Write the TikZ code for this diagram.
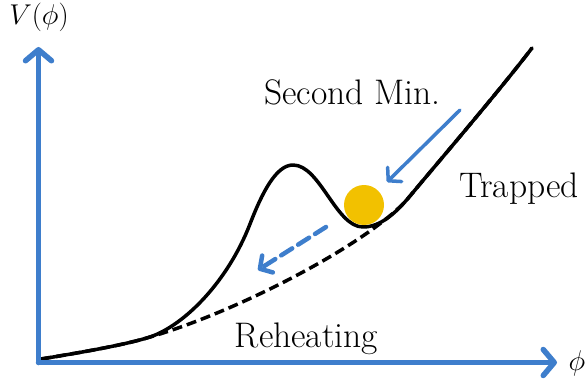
\documentclass[tikz,border=0pt]{standalone}
\usepackage{fontspec}
\usepackage{graphicx}
\usetikzlibrary{arrows.meta}
\definecolor{axisblue}{RGB}{62,126,204}
\definecolor{ballgold}{RGB}{242,193,0}
\newcommand{\bigmath}[1]{\scalebox{1.15}{\Huge$#1$}}
\begin{document}
\begin{tikzpicture}[x=1pt,y=-1pt,
  lbl/.style={font=\fontsize{35.5}{42}\selectfont, inner sep=0pt},
  axisarrow/.style={draw=axisblue, line width=5.5pt, line cap=round,
     -{Straight Barb[round, length=11pt, width=26pt]}},
  flowarrow/.style={draw=axisblue, line width=3.5pt, line cap=round,
     -{Straight Barb[round, length=9pt, width=20pt]}},
  curve/.style={line width=3.5pt, line cap=round, line join=round},
  dashcurve/.style={line width=3.5pt, dash pattern=on 10pt off 5pt}]
\useasboundingbox (0,0) rectangle (586,385);
\coordinate (O) at (38.5,362.5);
\coordinate (ytip) at (38.5,47);
\coordinate (xtip) at (557,362.5);
% potentials
\draw[dashcurve] (41,359) .. controls (90,351) and (128,344) .. (150,337)
  .. controls (240,311) and (375,240) .. (410,196)
  .. controls (440,160) and (500,90) .. (532,48);
\draw[curve] (41,359) .. controls (90,351) and (128,344) .. (150,337)
  .. controls (185,325) and (228,281) .. (250,224)
  .. controls (262,193) and (276,165) .. (293,165)
  .. controls (320,165) and (336,227) .. (363,227)
  .. controls (380,227) and (395,214) .. (410,196)
  .. controls (440,160) and (500,90) .. (532,48);
% axes
\draw[axisarrow] (O) -- (ytip);
\draw[axisarrow] (O) -- (xtip);
% ball
\node[circle, fill=ballgold, minimum size=40pt, inner sep=0pt] (ball) at (364,205) {};
% arrows
\coordinate (a1s) at (460,110);
\coordinate (a1e) at (387,182);
\draw[flowarrow] (a1s) -- (a1e);
\coordinate (a2s) at (326,227);
\coordinate (a2e) at (258,270);
\draw[flowarrow, line width=4.5pt, dash pattern=on 13pt off 7pt] (a2s) -- (a2e);
% labels
\node[lbl, anchor=base] (vphi) at (39,25) {\bigmath{V(\phi)}};
\node[lbl] (phi) at (577,363.5) {\bigmath{\phi}};
\node[lbl, anchor=base] (second) at (352.5,105) {Second Min.};
\node[lbl, anchor=base] (trapped) at (519,197) {Trapped};
\node[lbl, anchor=base] (reheat) at (306.5,347) {Reheating};
\end{tikzpicture}
\end{document}
